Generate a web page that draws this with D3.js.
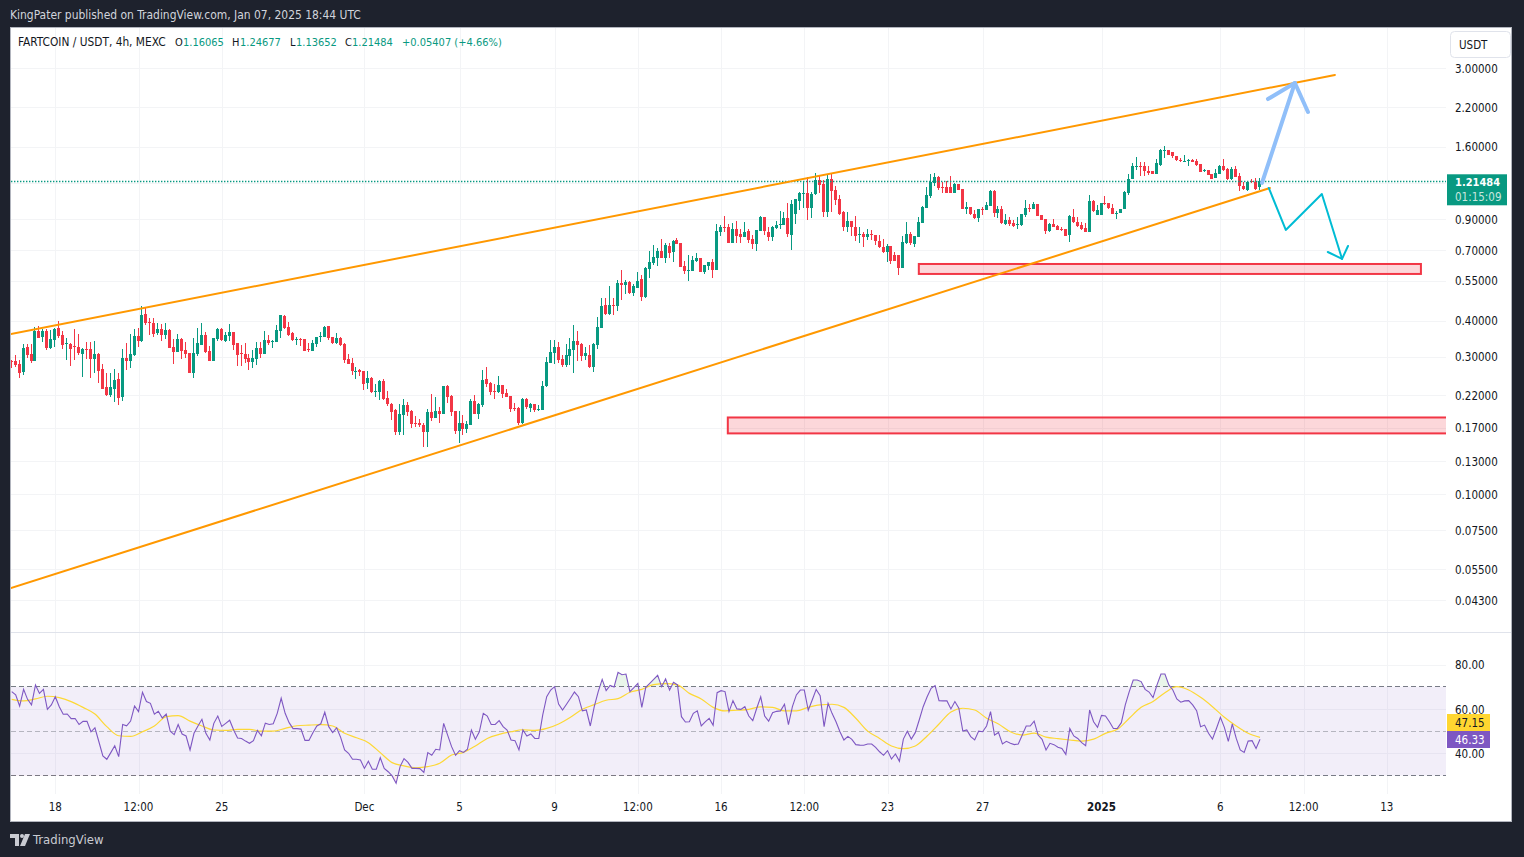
<!DOCTYPE html>
<html>
<head>
<meta charset="utf-8">
<title>FARTCOIN / USDT</title>
<script src="https://cdn.jsdelivr.net/npm/d3@7"></script>
<style>
  html, body { margin: 0; padding: 0; background: #1e222d; overflow: hidden; }
  svg { display: block; }
  text { font-family: "DejaVu Sans Condensed", "Liberation Sans", Arial, sans-serif; font-size: 11.5px; fill: #131722; }
  .axis .domain, .grid .domain { display: none; }
  .grid line { stroke: #f3f4f6; shape-rendering: crispEdges; }
  .grid text { display: none; }
</style>
</head>
<body>
<script>
/* global d3 */

// 4h candles, first bar is Nov 16 2024 04:00 UTC
const opens = [
  .290,.290,.283,.266,.324,.306,.290,.368,.351,.368,.321,
  .342,.377,.356,.332,.332,.326,.324,.306,.319,.319,
  .294,.306,.272,.236,.221,.232,.251,.217,.297,.290,
  .304,.353,.339,.421,.396,.393,.362,.374,.356,.371,
  .324,.311,.345,.316,.309,.264,.306,.329,.356,.314,
  .290,.345,.374,.339,.353,.365,.334,.309,.306,.297,
  .288,.294,.321,.306,.342,.338,.337,.368,.415,.380,
  .362,.343,.345,.345,.319,.314,.332,.351,.351,.383,
  .351,.334,.348,.332,.294,.285,.266,.270,.268,.243,
  .253,.227,.226,.247,.216,.206,.196,.164,.188,.204,
  .194,.177,.177,.174,.164,.193,.184,.194,.190,.238,
  .219,.194,.166,.177,.168,.174,.210,.190,.204,.251,
  .243,.228,.226,.239,.225,.219,.199,.199,.177,.214,
  .199,.206,.197,.196,.238,.285,.309,.324,.294,.281,
  .302,.316,.339,.332,.302,.304,.276,.329,.377,.453,
  .421,.453,.449,.540,.531,.544,.499,.519,.557,.483,
  .604,.633,.659,.697,.659,.725,.691,.761,.743,.619,
  .594,.594,.644,.659,.590,.619,.639,.599,.811,.844,
  .844,.743,.830,.798,.779,.817,.767,.737,.817,.914,
  .811,.779,.837,.857,.857,.907,.792,.936,1.039,1.098,
  1.107,.982,1.098,1.228,1.190,.951,1.238,1.134,1.055,.951,
  .844,.885,.844,.792,.798,.779,.798,.792,.755,.719,
  .691,.725,.675,.675,.609,.743,.798,.737,.779,.871,
  .982,1.081,1.199,1.258,1.162,1.162,1.162,1.107,1.190,1.143,
  .974,.990,.936,.907,.974,.966,.998,1.125,.944,.974,
  .864,.892,.871,.857,.857,.929,.982,.974,1.014,.929,
  .900,.817,.864,.851,.830,.830,.792,.914,.878,.857,
  .837,.811,1.039,.929,.929,1.022,1.022,.982,.936,.944,
  .974,1.107,1.238,1.362,1.373,1.373,1.320,1.320,1.288,1.384,
  1.546,1.559,1.534,1.486,1.440,1.425,1.428,1.440,1.428,1.395,
  1.320,1.330,1.288,1.248,1.288,1.373,1.341,1.238,1.341,1.268,
  1.171,1.134,1.219,1.209,1.16065
];
const highs = [
  .292,.304,.292,.332,.332,.332,.380,.383,.374,.374,.371,
  .377,.399,.368,.348,.334,.374,.359,.321,.337,.337,
  .339,.309,.283,.264,.264,.272,.264,.319,.334,.359,
  .374,.377,.449,.442,.408,.408,.393,.390,.393,.374,
  .345,.359,.348,.337,.309,.348,.377,.393,.365,.326,
  .348,.377,.377,.365,.390,.365,.334,.329,.334,.306,
  .316,.337,.337,.368,.356,.342,.386,.418,.418,.396,
  .365,.351,.348,.345,.334,.342,.351,.365,.383,.383,
  .351,.362,.351,.334,.306,.297,.276,.272,.268,.268,
  .255,.241,.249,.251,.228,.207,.198,.206,.214,.209,
  .196,.187,.183,.177,.198,.223,.217,.200,.238,.239,
  .221,.194,.194,.188,.180,.214,.221,.207,.270,.276,
  .245,.241,.257,.239,.232,.219,.207,.200,.216,.216,
  .207,.206,.204,.247,.299,.342,.342,.337,.304,.332,
  .348,.386,.368,.334,.324,.329,.334,.411,.479,.479,
  .527,.479,.553,.599,.553,.549,.536,.590,.575,.614,
  .697,.731,.713,.767,.743,.743,.761,.773,.743,.644,
  .675,.670,.686,.659,.623,.639,.654,.864,.857,.922,
  .864,.871,.885,.830,.878,.830,.792,.824,.922,.914,
  .844,.851,.885,.959,.951,1.022,1.047,1.055,1.116,1.209,
  1.258,1.116,1.299,1.268,1.228,1.288,1.299,1.171,1.089,.959,
  .951,.885,.922,.844,.811,.830,.824,.792,.792,.767,
  .737,.725,.691,.675,.785,.878,.811,.785,.914,.998,
  1.162,1.288,1.299,1.268,1.209,1.219,1.268,1.199,1.190,1.143,
  1.031,.990,.966,.974,.990,1.031,1.134,1.134,.998,.998,
  .936,.914,.892,.914,.936,1.047,1.014,1.031,1.014,.929,
  .900,.871,.900,.857,.844,.830,.929,.974,.914,.878,
  .871,1.089,1.047,1.006,1.022,1.081,1.022,1.014,.959,.974,
  1.125,1.288,1.406,1.474,1.417,1.417,1.373,1.320,1.451,1.571,
  1.610,1.559,1.534,1.486,1.462,1.498,1.451,1.451,1.451,1.395,
  1.341,1.330,1.288,1.341,1.384,1.451,1.351,1.362,1.373,1.299,
  1.209,1.219,1.238,1.248,1.24677
];
const lows = [
  .274,.276,.253,.259,.297,.285,.290,.348,.337,.316,.319,
  .324,.348,.319,.292,.279,.292,.304,.255,.294,.253,
  .264,.243,.232,.219,.217,.209,.204,.211,.270,.274,
  .302,.324,.337,.386,.356,.351,.356,.339,.345,.321,
  .283,.311,.294,.297,.264,.253,.302,.329,.309,.290,
  .290,.339,.339,.337,.339,.316,.279,.279,.285,.270,
  .274,.281,.297,.306,.329,.321,.337,.348,.374,.353,
  .339,.329,.326,.314,.311,.314,.324,.337,.351,.342,
  .332,.332,.326,.285,.283,.259,.251,.257,.230,.232,
  .225,.217,.212,.212,.202,.181,.160,.160,.160,.186,
  .170,.171,.171,.146,.146,.180,.184,.177,.190,.207,
  .187,.162,.150,.160,.163,.174,.190,.183,.200,.236,
  .221,.214,.225,.216,.217,.192,.194,.174,.175,.198,
  .193,.193,.194,.196,.236,.285,.283,.285,.276,.276,
  .281,.264,.290,.290,.292,.274,.266,.319,.377,.418,
  .418,.418,.432,.471,.495,.495,.487,.519,.468,.479,
  .562,.623,.619,.659,.633,.659,.639,.737,.614,.580,
  .549,.594,.639,.590,.580,.599,.562,.599,.785,.811,
  .743,.743,.743,.743,.779,.743,.708,.697,.817,.792,
  .755,.755,.830,.830,.857,.779,.702,.864,.966,.982,
  .892,.907,1.089,1.107,.914,.914,.951,1.006,.929,.817,
  .811,.785,.755,.743,.719,.761,.761,.731,.713,.686,
  .639,.628,.644,.575,.609,.737,.731,.719,.779,.871,
  .982,1.064,1.171,1.134,1.107,1.107,1.107,1.107,1.134,.974,
  .936,.929,.900,.878,.929,.966,.998,.914,.907,.864,
  .857,.851,.844,.830,.851,.914,.951,.974,.922,.892,
  .798,.811,.844,.824,.817,.785,.749,.871,.844,.824,
  .811,.811,.951,.929,.929,1.006,.974,.936,.900,.944,
  .974,1.089,1.238,1.330,1.268,1.268,1.278,1.288,1.288,1.373,
  1.462,1.498,1.462,1.428,1.417,1.417,1.373,1.417,1.373,1.309,
  1.309,1.278,1.238,1.248,1.288,1.320,1.228,1.228,1.258,1.125,
  1.134,1.125,1.199,1.134,1.13652
];
const closes = [
  .288,.281,.264,.321,.304,.290,.368,.348,.368,.321,.345,
  .374,.353,.329,.334,.319,.324,.309,.319,.316,.294,
  .306,.268,.232,.221,.236,.249,.216,.297,.290,.306,
  .353,.339,.418,.393,.393,.359,.374,.356,.371,.321,
  .311,.345,.314,.306,.264,.309,.334,.356,.311,.290,
  .348,.374,.342,.356,.365,.329,.304,.306,.294,.288,
  .297,.321,.306,.342,.334,.340,.371,.418,.377,.356,
  .342,.345,.342,.314,.316,.334,.351,.353,.380,.348,
  .334,.348,.329,.292,.283,.268,.268,.266,.241,.253,
  .226,.228,.247,.214,.206,.193,.164,.190,.204,.193,
  .175,.175,.174,.164,.193,.184,.194,.190,.238,.217,
  .193,.166,.177,.168,.175,.210,.190,.206,.249,.241,
  .226,.226,.239,.223,.217,.198,.198,.177,.214,.200,
  .206,.196,.198,.238,.288,.311,.324,.292,.281,.304,
  .319,.339,.329,.302,.309,.276,.332,.380,.449,.421,
  .453,.449,.540,.531,.544,.499,.527,.549,.483,.609,
  .639,.664,.697,.659,.731,.686,.755,.737,.614,.594,
  .599,.649,.659,.590,.623,.639,.599,.817,.844,.837,
  .743,.830,.785,.779,.811,.761,.737,.824,.914,.817,
  .779,.844,.857,.864,.907,.798,1.014,1.055,1.107,1.107,
  .982,1.098,1.228,1.180,.951,1.238,1.125,1.047,.936,.844,
  .885,.844,.785,.798,.779,.798,.792,.755,.719,.691,
  .725,.644,.644,.609,.749,.798,.743,.785,.878,.990,
  1.089,1.209,1.258,1.152,1.152,1.107,1.107,1.190,1.134,.974,
  .990,.936,.907,.974,.966,1.006,1.125,.944,.974,.871,
  .892,.864,.851,.864,.936,.982,.974,1.014,.922,.892,
  .817,.864,.844,.824,.824,.785,.922,.878,.851,.830,
  .811,1.039,.959,.966,1.022,1.014,.982,.936,.944,.974,
  1.116,1.238,1.373,1.373,1.362,1.320,1.299,1.288,1.406,1.559,
  1.559,1.498,1.486,1.440,1.428,1.432,1.440,1.417,1.384,1.309,
  1.330,1.278,1.238,1.299,1.373,1.330,1.238,1.341,1.258,1.171,
  1.143,1.209,1.209,1.143,1.21484
];

// RSI, one value per candle
const rsi = [
  67.8,66.3,61.3,68.8,64.3,61.8,70.8,67.0,68.8,59.8,61.8,
  65.5,61.0,57.6,57.7,55.6,55.7,53.0,54.4,54.4,49.7,
  51.5,45.2,38.8,37.3,40.3,43.4,38.5,53.0,52.4,54.5,
  61.3,58.8,67.5,63.3,62.5,57.6,58.9,55.9,57.7,50.0,
  48.4,53.0,48.7,47.8,41.5,49.0,52.3,55.3,49.0,46.0,
  53.5,56.8,52.1,53.5,54.9,50.5,46.9,46.7,45.5,44.5,
  45.7,50.3,47.9,53.6,53.0,53.3,58.0,64.8,58.0,53.8,
  51.1,51.1,50.9,45.8,45.8,49.3,52.3,53.3,58.5,52.0,
  49.3,51.5,47.2,41.5,40.0,37.3,37.3,37.0,33.2,36.4,
  32.8,32.8,38.0,33.2,31.7,29.8,26.5,34.0,37.6,35.9,
  33.2,33.2,33.1,31.4,40.3,39.1,41.8,41.5,53.5,48.2,
  43.0,39.1,41.2,40.4,41.8,50.5,46.3,49.7,58.0,56.8,
  53.0,53.0,54.7,52.0,50.5,46.0,45.7,41.5,50.5,47.8,
  48.7,46.7,46.7,57.3,65.5,68.5,70.0,62.2,59.5,62.1,
  64.8,67.6,65.5,59.1,59.5,52.3,61.0,67.8,73.3,68.2,
  70.6,69.9,76.5,75.4,75.7,67.8,69.6,71.5,60.7,69.7,
  71.5,73.3,75.1,70.0,73.5,68.5,72.0,70.8,56.5,54.1,
  54.2,58.0,59.1,52.3,54.2,55.7,52.6,67.3,68.2,67.8,
  58.8,63.7,60.0,59.8,61.0,56.8,54.7,60.3,65.4,56.8,
  54.5,58.3,58.9,59.1,62.1,52.9,61.0,66.3,68.5,68.5,
  59.4,64.0,68.8,66.0,52.0,62.5,58.0,54.2,49.7,46.0,
  47.6,46.3,43.9,43.7,43.6,44.2,44.2,42.7,40.7,39.1,
  41.2,37.4,39.7,36.4,46.4,49.9,46.4,49.3,55.0,61.0,
  65.5,69.3,70.5,63.7,63.6,63.6,60.0,63.3,60.3,50.0,
  50.5,47.5,46.0,50.0,49.7,52.3,58.8,48.2,49.4,44.2,
  45.4,44.5,43.9,44.2,48.2,52.3,52.3,54.5,48.2,46.3,
  41.5,44.5,43.9,42.7,42.2,39.5,51.2,47.8,46.7,44.8,
  43.4,59.5,54.2,51.7,57.1,56.8,54.2,51.2,51.2,53.8,
  61.8,67.8,73.0,73.0,72.3,68.8,67.6,65.1,70.8,75.7,
  75.7,70.8,68.5,64.5,63.0,63.6,63.7,61.8,59.2,52.0,
  52.7,49.0,46.4,51.2,56.2,51.7,45.4,53.2,46.7,41.5,
  40.4,45.5,45.7,42.2,46.33
];

// RSI moving average, read at every third candle
const rsiMa = [
  64.3,63.6,64.5,65.7,65.1,63.3,60.7,57.7,52.0,47.9,47.6,49.7,52.3,56.5,
  57.0,54.5,52.3,50.5,50.3,50.8,50.8,50.0,50.0,51.2,52.4,52.7,52.9,52.3,
  49.0,47.0,44.8,40.3,35.8,34.3,33.5,34.0,35.5,39.2,40.4,43.3,46.7,48.5,
  49.7,50.6,50.3,51.2,53.2,56.2,59.8,61.9,63.9,64.6,67.5,68.8,70.9,71.4,
  70.8,67.0,64.5,60.7,59.1,59.4,59.8,60.9,60.7,59.1,59.1,60.7,61.8,62.1,
  60.7,55.8,50.0,46.7,43.3,42.1,43.3,47.8,53.2,58.6,60.3,59.5,55.8,53.2,
  49.7,48.2,49.1,47.3,46.6,46.0,45.5,46.4,49.0,50.8,55.8,60.7,63.3,67.3,
  70.0,68.5,65.2,61.0,56.2,52.3,49.0,47.15
];

const priceTicks = [3, 2.2, 1.6, .9, .7, .55, .4, .3, .22, .17, .13, .1, .075, .055, .043];
const rsiTicks = [80, 60, 40];
const timeTickLabels = ['18', '12:00', '25', 'Dec', '5', '9', '12:00', '16', '12:00', '23', '27', '2025', '6', '12:00', '13'];
const timeTicks = [
  [10, 18], [10, 21, 12], [10, 25], [11, 1], [11, 5], [11, 9], [11, 12, 12], [11, 16],
  [11, 19, 12], [11, 23], [11, 27], [12, 1], [12, 6], [12, 9, 12], [12, 13]
].map(([m, d, h = 0]) => new Date(Date.UTC(2024, m, d, h)));

// drawings on the chart: [bar number from the first candle, price]
const channelTop = [[-0.2, .359], [333.9, 2.837]];
const channelBottom = [[-0.2, .0473], [317.5, 1.152]];
const zoneHigh = {from: 228.9, to: 355.6, top: .628, bottom: .580};
const zoneLow = {from: 180.7, to: 375, top: .1845, bottom: .1625};
const blueArrow = [[315.5, 1.199], [323.8, 2.662]];
const blueHead = [[317, 2.342], [323.8, 2.662], [327.1, 2.112]];
const cyanArrow = [[317.2, 1.152], [321.5, .824], [330.6, 1.098], [335.7, .654]];
const cyanHead = [[332.1, .691], [335.7, .654], [337.2, .725]];

const GREEN = '#089981';
const RED = '#f23645';
const PURPLE = '#7e57c2';
const YELLOW = '#fdd835';
const ORANGE = '#ff9800';
const FONT = '"DejaVu Sans Condensed", "Liberation Sans", Arial, sans-serif';

const W = 1524;
const H = 857;
const plot = {left: 11, right: 1446, top: 28, split: 632, bottom: 794, frameRight: 1511, frameBottom: 821};

const firstBar = Date.UTC(2024, 10, 16, 4);
const barMs = 4 * 3600 * 1000;
const barDate = i => new Date(firstBar + i * barMs);

const x = d3.scaleUtc()
  .domain([new Date(Date.UTC(2024, 10, 18)), new Date(Date.UTC(2025, 0, 6))])
  .range([55.3, 1220.4]);
const y = d3.scaleLog().domain([3, .043]).range([68, 600]);
const yRsi = d3.scaleLinear().domain([80, 40]).range([664.5, 753.3]);
const barX = i => x(barDate(i));

const svg = d3.select('body').append('svg').attr('width', W).attr('height', H);

svg.append('rect')
  .attr('x', plot.left - 0.5).attr('y', plot.top - 0.5)
  .attr('width', plot.frameRight - plot.left + 1).attr('height', plot.frameBottom - plot.top + 1)
  .attr('fill', '#fff').attr('stroke', '#b2b5be');

const defs = svg.append('defs');
const clipRect = (id, x0, y0, x1, y1) => defs.append('clipPath').attr('id', id).append('rect')
  .attr('x', x0).attr('y', y0).attr('width', x1 - x0).attr('height', y1 - y0);
clipRect('pricePane', plot.left, plot.top, plot.right, plot.split);
clipRect('aboveBand', plot.left, plot.split, plot.right, yRsi(70));
clipRect('belowBand', plot.left, yRsi(30), plot.right, plot.bottom);

// grids
svg.append('g').attr('class', 'grid')
  .attr('transform', `translate(0,${plot.bottom})`)
  .call(d3.axisBottom(x).tickValues(timeTicks).tickSize(-(plot.bottom - plot.top)).tickFormat(''));
svg.append('g').attr('class', 'grid')
  .attr('transform', `translate(${plot.right},0)`)
  .call(d3.axisRight(y).tickValues(priceTicks.concat(1.2)).tickSize(-(plot.right - plot.left)).tickFormat(''));
svg.append('g').attr('class', 'grid')
  .attr('transform', `translate(${plot.right},0)`)
  .call(d3.axisRight(yRsi).tickValues(rsiTicks).tickSize(-(plot.right - plot.left)).tickFormat(''));

svg.append('line')
  .attr('x1', plot.left).attr('x2', plot.frameRight)
  .attr('y1', plot.split + 0.5).attr('y2', plot.split + 0.5)
  .attr('stroke', '#e0e3eb');

// candles
const price = svg.append('g').attr('clip-path', 'url(#pricePane)');
const candles = price.append('g').selectAll('g')
  .data(opens.map((o, i) => ({i, o, h: highs[i], l: lows[i], c: closes[i]})))
  .join('g')
  .attr('shape-rendering', 'crispEdges')
  .attr('fill', d => d.c >= d.o ? GREEN : RED);
candles.append('rect')
  .attr('x', d => Math.round(barX(d.i)) - 1)
  .attr('width', 1)
  .attr('y', d => y(d.h))
  .attr('height', d => y(d.l) - y(d.h));
candles.append('rect')
  .attr('x', d => Math.round(barX(d.i)) - 2)
  .attr('width', 3)
  .attr('y', d => Math.min(y(d.o), y(d.c)))
  .attr('height', d => Math.max(1, Math.abs(y(d.o) - y(d.c))));

// last price line
const lastClose = closes[closes.length - 1];
price.append('line')
  .attr('x1', plot.left).attr('x2', plot.right)
  .attr('y1', Math.round(y(lastClose)) + 0.5).attr('y2', Math.round(y(lastClose)) + 0.5)
  .attr('stroke', GREEN).attr('stroke-width', 1.4).attr('stroke-dasharray', '1.4 1.6');

// zones and channel
const zone = d => price.append('rect')
  .attr('x', barX(d.from)).attr('width', barX(d.to) - barX(d.from))
  .attr('y', y(d.top)).attr('height', y(d.bottom) - y(d.top))
  .attr('fill', RED).attr('fill-opacity', 0.2)
  .attr('stroke', RED).attr('stroke-width', 2);
zone(zoneHigh);
zone(zoneLow);

const drawLine = d3.line().x(d => barX(d[0])).y(d => y(d[1]));
const drawing = (pts, color, width) => price.append('path')
  .attr('d', drawLine(pts))
  .attr('fill', 'none')
  .attr('stroke', color)
  .attr('stroke-width', width)
  .attr('stroke-linecap', 'round')
  .attr('stroke-linejoin', 'round');
drawing(channelTop, ORANGE, 2);
drawing(channelBottom, ORANGE, 2);
drawing(blueArrow, '#90bff9', 4);
drawing(blueHead, '#90bff9', 4);
drawing(cyanArrow, '#00bcd4', 2);
drawing(cyanHead, '#00bcd4', 2);

// RSI pane
const rsiPane = svg.append('g');
rsiPane.append('rect')
  .attr('x', plot.left).attr('width', plot.right - plot.left)
  .attr('y', yRsi(70)).attr('height', yRsi(30) - yRsi(70))
  .attr('fill', PURPLE).attr('fill-opacity', 0.1);
[[70, 1], [50, 0.5], [30, 1]].forEach(([v, op]) => {
  rsiPane.append('line')
    .attr('x1', plot.left).attr('x2', plot.right)
    .attr('y1', Math.floor(yRsi(v)) + 0.5).attr('y2', Math.floor(yRsi(v)) + 0.5)
    .attr('stroke', '#787b86').attr('stroke-opacity', op)
    .attr('stroke-dasharray', '5 3');
});
rsiPane.append('path')
  .attr('clip-path', 'url(#aboveBand)')
  .attr('d', d3.area().x((d, i) => barX(i)).y0(yRsi(70)).y1(d => yRsi(d))(rsi))
  .attr('fill', '#4caf50').attr('fill-opacity', 0.12);
rsiPane.append('path')
  .attr('clip-path', 'url(#belowBand)')
  .attr('d', d3.area().x((d, i) => barX(i)).y0(yRsi(30)).y1(d => yRsi(d))(rsi))
  .attr('fill', RED).attr('fill-opacity', 0.1);
rsiPane.append('path')
  .attr('d', d3.line().x((d, i) => barX(i * 3)).y(d => yRsi(d)).curve(d3.curveMonotoneX)(rsiMa))
  .attr('fill', 'none').attr('stroke', YELLOW).attr('stroke-width', 1.2);
rsiPane.append('path')
  .attr('d', d3.line().x((d, i) => barX(i)).y(d => yRsi(d))(rsi))
  .attr('fill', 'none').attr('stroke', PURPLE).attr('stroke-width', 1.1);

// axes
const priceAxis = svg.append('g').attr('class', 'axis')
  .attr('transform', `translate(${plot.right},0.5)`)
  .call(d3.axisRight(y).tickValues(priceTicks).tickFormat(d3.format('.5f')).tickSize(0).tickPadding(9));
const rsiAxis = svg.append('g').attr('class', 'axis')
  .attr('transform', `translate(${plot.right},0.5)`)
  .call(d3.axisRight(yRsi).tickValues(rsiTicks).tickFormat(d3.format('.2f')).tickSize(0).tickPadding(9));
const timeAxis = svg.append('g').attr('class', 'axis')
  .attr('transform', `translate(0,${plot.bottom})`)
  .call(d3.axisBottom(x).offset(0).tickValues(timeTicks)
    .tickFormat((d, i) => timeTickLabels[i]).tickSize(0).tickPadding(9));
[priceAxis, rsiAxis, timeAxis].forEach(a => a.selectAll('text')
  .style('font-family', FONT).style('font-size', '11.5px').attr('fill', '#131722'));
timeAxis.selectAll('text').filter(d => d.getUTCFullYear() === 2025 && d.getUTCDate() === 1)
  .style('font-weight', 'bold');

// price and indicator tags
const tag = (x0, y0, w, h, color) => svg.append('rect')
  .attr('x', x0).attr('y', y0).attr('width', w).attr('height', h).attr('fill', color);
const label = (x0, y0, s, color, anchor = 'start', extra = {}) => {
  const t = svg.append('text').attr('x', x0).attr('y', y0).attr('text-anchor', anchor)
    .style('fill', color).text(s);
  Object.entries(extra).forEach(([k, v]) => t.style(k, v));
  return t;
};
const priceY = y(lastClose);
tag(plot.right + 1, priceY - 7, 60, 31, GREEN);
label(plot.right + 9, priceY + 5, d3.format('.5f')(lastClose), '#fff', 'start', {'font-weight': 'bold', 'font-size': '11px'});
label(plot.right + 9, priceY + 20, '01:15:09', '#c8e6df');

tag(plot.right + 1, 714, 43, 17, '#ffd630');
label(plot.right + 9, 727, d3.format('.2f')(rsiMa[rsiMa.length - 1]), '#131722');
tag(plot.right + 1, 731, 43, 17, PURPLE);
label(plot.right + 9, 744, d3.format('.2f')(rsi[rsi.length - 1]), '#fff');

// USDT button
svg.append('rect')
  .attr('x', 1450.5).attr('y', 31.5).attr('width', 60).attr('height', 26).attr('rx', 4)
  .attr('fill', '#fff').attr('stroke', '#e0e3eb');
label(1459, 49, 'USDT', '#131722');

// header and legend
label(10, 19, 'KingPater published on TradingView.com, Jan 07, 2025 18:44 UTC', '#d1d4dc', 'start', {'font-size': '11.95px'});
label(18, 46, 'FARTCOIN / USDT, 4h, MEXC', '#131722', 'start', {'font-size': '11.8px'});
const legend = [
  [175, 'O', '#131722'], [183, '1.16065', GREEN],
  [232, 'H', '#131722'], [240, '1.24677', GREEN],
  [290, 'L', '#131722'], [296, '1.13652', GREEN],
  [345, 'C', '#131722'], [352, '1.21484', GREEN],
  [402, '+0.05407 (+4.66%)', GREEN]
];
legend.forEach(([lx, s, c]) => label(lx, 46, s, c, 'start', {'font-size': '11px'}));

// TradingView mark
const mark = svg.append('g').attr('fill', '#c9cbd2');
mark.append('path').attr('d', 'M10 834h9v12h-4v-8h-5z');
mark.append('circle').attr('cx', 22).attr('cy', 836).attr('r', 2);
mark.append('path').attr('d', 'M25 834h5l-5 12h-5z');
label(33, 844, 'TradingView', '#c9cbd2', 'start', {'font-size': '13px'});
</script>
</body>
</html>
